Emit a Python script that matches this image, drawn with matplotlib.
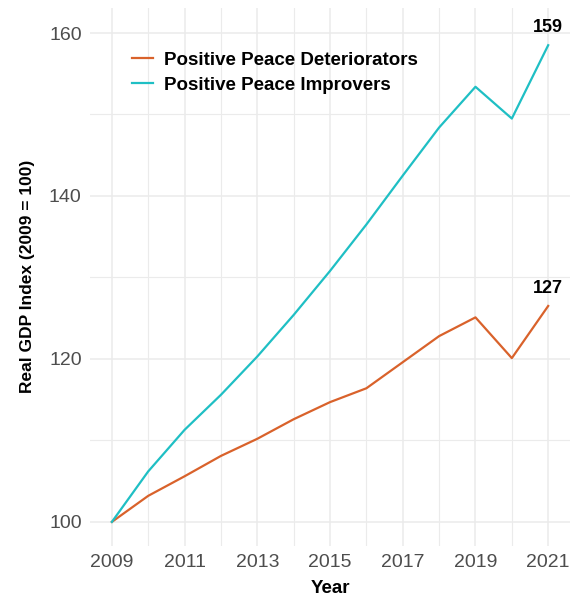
import matplotlib.pyplot as plt
from matplotlib.ticker import MultipleLocator

plt.rcParams['font.family'] = ['Liberation Sans', 'DejaVu Sans']

years = list(range(2009, 2022))
deteriorators = [100, 103.2, 105.6, 108.1, 110.2, 112.6, 114.7, 116.4, 119.6, 122.8, 125.1, 120.1, 126.5]
improvers = [100, 106.2, 111.3, 115.6, 120.3, 125.4, 130.8, 136.5, 142.5, 148.4, 153.4, 149.5, 158.5]
end_labels = ["127", "159"]

orange = "#D9622B"
cyan = "#1FBFC4"
grid_col = "#EBEBEB"

fig = plt.figure(figsize=(5.7, 5.96), dpi=100)
ax = fig.add_axes([0.158, 0.084, 0.842, 0.903])

ax.plot(years, deteriorators, color=orange, lw=1.6, label="Positive Peace Deteriorators")
ax.plot(years, improvers, color=cyan, lw=1.6, label="Positive Peace Improvers")

# end-of-series value labels
ax.text(years[-1], deteriorators[-1] + 1.1, end_labels[0], ha="center", va="bottom",
        fontsize=13, fontweight="bold")
ax.text(years[-1], improvers[-1] + 1.1, end_labels[1], ha="center", va="bottom",
        fontsize=13, fontweight="bold")

ax.set_xlim(2008.4, 2021.6)
ax.set_ylim(97.05, 163.1)
ax.xaxis.set_major_locator(MultipleLocator(2, offset=1))
ax.xaxis.set_minor_locator(MultipleLocator(1))
ax.yaxis.set_major_locator(MultipleLocator(20))
ax.yaxis.set_minor_locator(MultipleLocator(10))

ax.grid(which="major", color=grid_col, lw=1.1)
ax.grid(which="minor", color=grid_col, lw=0.8)
ax.set_axisbelow(True)
for s in ax.spines.values():
    s.set_visible(False)
ax.tick_params(which="both", length=0)
ax.tick_params(axis="both", labelsize=14, labelcolor="#4D4D4D", pad=6)

ax.set_xlabel("Year", fontsize=13.5, fontweight="bold", labelpad=6)
ax.set_ylabel("Real GDP Index (2009 = 100)", fontsize=12.5, fontweight="bold", labelpad=10)

leg = ax.legend(loc="upper left", bbox_to_anchor=(0.053, 0.95), frameon=False,
                prop={"weight": "bold", "size": 13.5}, handlelength=1.1,
                handletextpad=0.6, labelspacing=0.42)

fig.savefig("out.png", dpi=100)
